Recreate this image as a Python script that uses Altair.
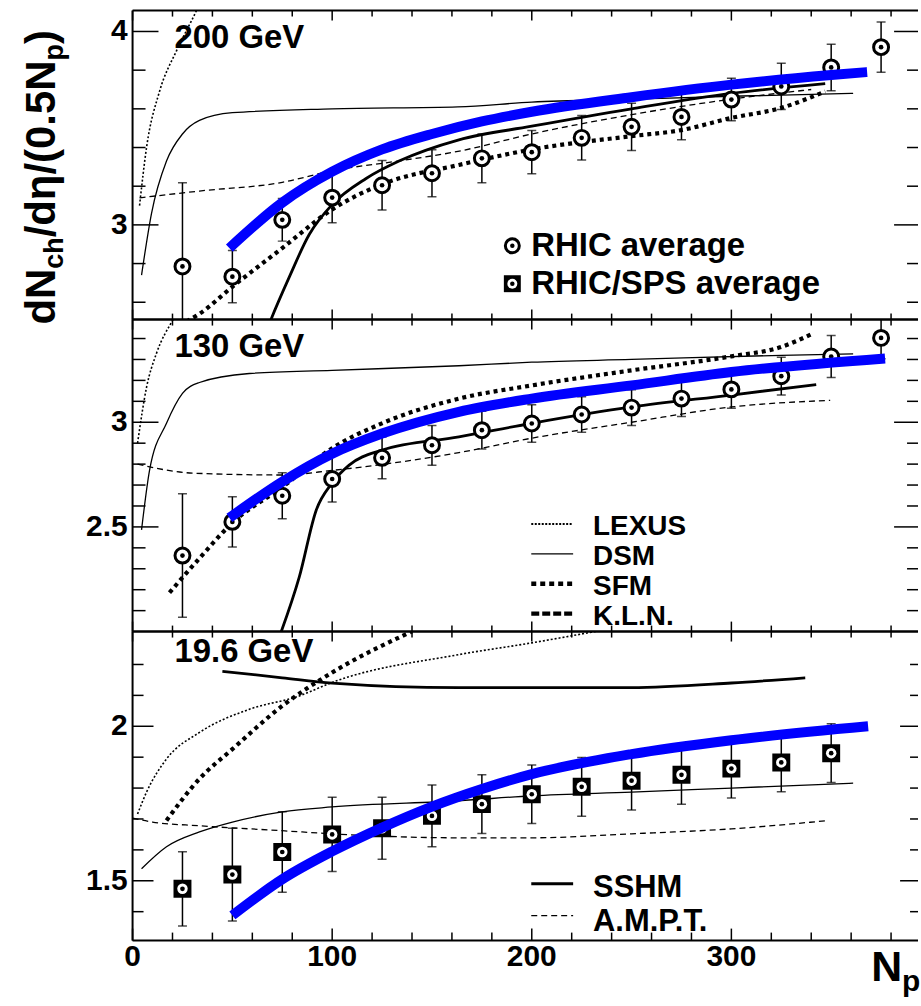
import altair as alt
import pandas as pd

FONT = "Liberation Sans"
BLUE = "#0000ff"

# ---------------- data points ----------------
np_rhic = [25, 50, 75, 100, 125, 150, 175, 200, 225, 250, 275, 300, 325, 350, 375]
rhic200 = [2.785, 2.732, 3.026, 3.141, 3.205, 3.267, 3.344, 3.376, 3.45, 3.507, 3.558, 3.648, 3.716, 3.814, 3.919]
err200 = [0.433, 0.135, 0.11, 0.13, 0.128, 0.121, 0.126, 0.112, 0.115, 0.122, 0.118, 0.11, 0.12, 0.12, 0.13]
rhic130 = [2.363, 2.524, 2.649, 2.729, 2.83, 2.89, 2.962, 2.994, 3.037, 3.07, 3.113, 3.157, 3.22, 3.314, 3.403]
err130 = [0.295, 0.12, 0.11, 0.11, 0.1, 0.095, 0.09, 0.09, 0.085, 0.085, 0.085, 0.09, 0.09, 0.1, 0.1]
np_sps = [25, 50, 75, 100, 125, 150, 175, 200, 225, 250, 275, 300, 325, 350]
sps196 = [1.474, 1.52, 1.593, 1.65, 1.67, 1.71, 1.748, 1.78, 1.804, 1.824, 1.843, 1.863, 1.883, 1.913]
err196 = [0.12, 0.15, 0.13, 0.12, 0.1, 0.1, 0.095, 0.095, 0.095, 0.095, 0.095, 0.095, 0.095, 0.095]

# ---------------- model curves: 200 GeV ----------------
lexus200_x = [3.5, 7, 13.5, 22, 32, 36]
lexus200_y = [3.10, 3.40, 3.69, 3.90, 4.108, 4.2]
dsm200_x = [4.5, 9.5, 17, 25, 33.5, 50, 100, 163, 200, 250, 300, 361]
dsm200_y = [2.74, 3.06, 3.33, 3.47, 3.54, 3.58, 3.60, 3.61, 3.635, 3.65, 3.665, 3.68]
sfm200_x = [27, 33.5, 50, 75, 100, 125, 163.5, 200, 250, 275, 300, 325, 347]
sfm200_y = [2.50, 2.54, 2.68, 2.88, 3.08, 3.21, 3.31, 3.39, 3.459, 3.49, 3.553, 3.605, 3.69]
kln200_x = [67, 69.5, 78.5, 88.5, 100, 117, 133.5, 163.5, 200, 250, 300, 347]
kln200_y = [2.45, 2.515, 2.73, 2.95, 3.105, 3.24, 3.33, 3.44, 3.51, 3.60, 3.68, 3.73]
ampt200_x = [3.5, 33.5, 75, 100, 133, 163, 200, 250, 300, 340]
ampt200_y = [3.14, 3.175, 3.22, 3.28, 3.33, 3.38, 3.47, 3.57, 3.65, 3.70]
fit200_x = [48.5, 75, 100, 125, 150, 175, 200, 250, 300, 350, 368]
fit200_y = [2.88, 3.115, 3.275, 3.39, 3.47, 3.535, 3.585, 3.66, 3.725, 3.775, 3.79]

# ---------------- model curves: 130 GeV ----------------
lexus130_x = [2.5, 7, 12, 20, 24]
lexus130_y = [2.9, 3.167, 3.33, 3.486, 3.55]
dsm130_x = [4.5, 8.5, 17, 25, 33.5, 58.5, 100, 163.5, 200, 250, 325, 361]
dsm130_y = [2.486, 2.77, 2.995, 3.138, 3.19, 3.233, 3.248, 3.27, 3.287, 3.30, 3.32, 3.327]
sfm130_x = [18.5, 33.5, 50, 75, 100, 125, 163.5, 200, 250, 300, 325, 340]
sfm130_y = [2.186, 2.35, 2.52, 2.69, 2.876, 2.995, 3.113, 3.176, 3.248, 3.315, 3.36, 3.42]
kln130_x = [74.5, 83.5, 92, 100, 108.5, 125, 163.5, 200, 250, 300, 342.5]
kln130_y = [2.0, 2.26, 2.58, 2.71, 2.795, 2.867, 2.93, 2.995, 3.073, 3.13, 3.18]
ampt130_x = [2.5, 30, 75, 100, 163.5, 200, 250, 300, 349.5]
ampt130_y = [2.8, 2.757, 2.748, 2.77, 2.855, 2.924, 3.0, 3.073, 3.105]
fit130_x = [48.5, 75, 100, 125, 163.5, 200, 250, 300, 377]
fit130_y = [2.543, 2.716, 2.85, 2.946, 3.05, 3.113, 3.176, 3.24, 3.305]

# ---------------- model curves: 19.6 GeV ----------------
lexus196_x = [2.5, 7, 17, 33.5, 58.5, 83.5, 100, 163.5, 200, 237]
lexus196_y = [1.716, 1.787, 1.894, 1.98, 2.055, 2.098, 2.142, 2.232, 2.27, 2.313]
sfm196_x = [17, 33.5, 50, 75, 100, 140]
sfm196_y = [1.695, 1.83, 1.926, 2.066, 2.174, 2.307]
sshm196_x = [45, 75, 100, 163.5, 200, 250, 300, 337]
sshm196_y = [2.178, 2.157, 2.14, 2.125, 2.125, 2.125, 2.14, 2.157]
dsm196_x = [4.5, 17, 33.5, 50, 75, 100, 163.5, 200, 250, 300, 361]
dsm196_y = [1.539, 1.61, 1.658, 1.69, 1.723, 1.739, 1.759, 1.775, 1.787, 1.80, 1.816]
ampt196_x = [0, 10, 33.5, 75, 100, 163.5, 200, 250, 300, 347]
ampt196_y = [1.703, 1.69, 1.678, 1.662, 1.652, 1.639, 1.639, 1.652, 1.668, 1.694]
fit196_x = [50, 75, 100, 125, 150, 175, 200, 250, 300, 368.5]
fit196_y = [1.388, 1.505, 1.595, 1.672, 1.74, 1.797, 1.845, 1.91, 1.955, 2.0]

# ---------------- ticks ----------------
x_major = [0, 100, 200, 300]
x_minor = [20, 40, 60, 80, 120, 140, 160, 180, 220, 240, 260, 280, 320, 340, 360, 380]
y200_major = [3, 4]
y200_minor = [2.6, 2.8, 3.2, 3.4, 3.6, 3.8]
y130_major = [2.5, 3]
y130_minor = [2.1, 2.2, 2.3, 2.4, 2.6, 2.7, 2.8, 2.9, 3.1, 3.2, 3.3, 3.4]
y196_major = [1.5, 2]
y196_minor = [1.4, 1.6, 1.7, 1.8, 1.9, 2.1, 2.2]

# ---------------- styles ----------------
STY = {
    "LEXUS": dict(strokeWidth=1.6, strokeDash=[2, 2]),
    "DSM": dict(strokeWidth=1.3),
    "SFM": dict(strokeWidth=4.2, strokeDash=[4, 4]),
    "KLN": dict(strokeWidth=2.8),
    "SSHM": dict(strokeWidth=2.8),
    "AMPT": dict(strokeWidth=1.3, strokeDash=[6, 4]),
}

W = 788
XDOM = [0, 393.5]
ONE = pd.DataFrame({"d": [0]})
TXT = dict(font=FONT, fontWeight="bold", color="black")


def panel(h, ydom, ymaj, ymin, lt, rt, xbt, xtt, curves, fit, pts, marker, texts, legend_lines,
          legend_markers, xlabels=False):
    xs = alt.Scale(domain=XDOM, nice=False, zero=False)
    ys = alt.Scale(domain=ydom, nice=False, zero=False)
    layers = []
    # y ticks (left & right)
    for vals, x0, x1 in [(ymaj, 0, lt[0]), (ymin, 0, lt[1]), (ymaj, W, W - rt[0]), (ymin, W, W - rt[1])]:
        layers.append(alt.Chart(pd.DataFrame({"v": vals})).mark_rule(color="black", strokeWidth=1.5).encode(
            y=alt.Y("v:Q", scale=ys, axis=None), x=alt.value(x0), x2=alt.value(x1)))
    # y tick labels
    layers.append(alt.Chart(pd.DataFrame({"v": ymaj})).mark_text(
        align="right", baseline="middle", fontSize=30, **TXT).encode(
        y=alt.Y("v:Q", scale=ys, axis=None), x=alt.value(-5), text=alt.Text("v:Q", format="~g")))
    # x ticks (bottom & top)
    for vals, y0, y1 in [(x_major, h, h - xbt[0]), (x_minor, h, h - xbt[1]), (x_major, 0, xtt[0]), (x_minor, 0, xtt[1])]:
        layers.append(alt.Chart(pd.DataFrame({"v": vals})).mark_rule(color="black", strokeWidth=1.5).encode(
            x=alt.X("v:Q", scale=xs, axis=None), y=alt.value(y0), y2=alt.value(y1)))
    if xlabels:
        layers.append(alt.Chart(pd.DataFrame({"v": x_major})).mark_text(
            align="center", baseline="alphabetic", fontSize=30, **TXT).encode(
            x=alt.X("v:Q", scale=xs, axis=None), y=alt.value(h + 26), text=alt.Text("v:Q", format="d")))
    # frame (left, top, bottom)
    layers.append(alt.Chart(ONE).mark_rule(color="black", strokeWidth=2).encode(
        x=alt.value(0), y=alt.value(0), y2=alt.value(h)))
    layers.append(alt.Chart(ONE).mark_rule(color="black", strokeWidth=2).encode(
        x=alt.value(0), x2=alt.value(W), y=alt.value(0)))
    layers.append(alt.Chart(ONE).mark_rule(color="black", strokeWidth=2).encode(
        x=alt.value(0), x2=alt.value(W), y=alt.value(h)))
    # model curves
    for name, cx, cy in curves:
        layers.append(alt.Chart(pd.DataFrame({"x": cx, "y": cy})).mark_line(
            clip=True, interpolate="monotone", color="black", **STY[name]).encode(
            x=alt.X("x:Q", scale=xs, axis=None), y=alt.Y("y:Q", scale=ys, axis=None)))
    # data points with error bars
    px, py, pe = pts
    pdf = pd.DataFrame({"x": px, "y": py, "e": pe})
    base = alt.Chart(pdf).transform_calculate(lo="datum.y - datum.e", hi="datum.y + datum.e")
    X = alt.X("x:Q", scale=xs, axis=None)
    layers.append(base.mark_rule(clip=True, color="black", strokeWidth=1.5).encode(
        x=X, y=alt.Y("lo:Q", scale=ys, axis=None), y2="hi:Q"))
    for f in ["lo", "hi"]:
        layers.append(base.mark_tick(clip=True, orient="horizontal", size=9, thickness=1.5, color="black").encode(
            x=X, y=alt.Y(f + ":Q", scale=ys, axis=None)))
    Y = alt.Y("y:Q", scale=ys, axis=None)
    if marker == "circle":
        layers.append(base.mark_point(clip=True, shape="circle", size=225, fill="white", stroke="black",
                                      strokeWidth=3, opacity=1, fillOpacity=1).encode(x=X, y=Y))
    else:
        layers.append(base.mark_square(clip=True, size=324, color="black", opacity=1).encode(x=X, y=Y))
        layers.append(base.mark_circle(clip=True, size=110, color="white", opacity=1).encode(x=X, y=Y))
    layers.append(base.mark_circle(clip=True, size=22, color="black", opacity=1).encode(x=X, y=Y))
    # fit curve (blue)
    fx, fy = fit
    layers.append(alt.Chart(pd.DataFrame({"x": fx, "y": fy})).mark_line(
        clip=True, interpolate="monotone", color=BLUE, strokeWidth=10, strokeCap="butt").encode(
        x=alt.X("x:Q", scale=xs, axis=None), y=alt.Y("y:Q", scale=ys, axis=None)))
    # legend line samples
    for name, lx1, lx2, ly, sty in legend_lines:
        layers.append(alt.Chart(ONE).mark_rule(color="black", **sty).encode(
            x=alt.value(lx1), x2=alt.value(lx2), y=alt.value(ly)))
    # legend markers
    for kind, mx, my in legend_markers:
        if kind == "circle":
            layers.append(alt.Chart(ONE).mark_point(shape="circle", size=196, fill="white", stroke="black",
                                                    strokeWidth=3, opacity=1, fillOpacity=1).encode(
                x=alt.value(mx), y=alt.value(my)))
        else:
            layers.append(alt.Chart(ONE).mark_square(size=289, color="black", opacity=1).encode(
                x=alt.value(mx), y=alt.value(my)))
            layers.append(alt.Chart(ONE).mark_circle(size=100, color="white", opacity=1).encode(
                x=alt.value(mx), y=alt.value(my)))
        layers.append(alt.Chart(ONE).mark_circle(size=20, color="black", opacity=1).encode(
            x=alt.value(mx), y=alt.value(my)))
    # texts
    for t, tx, ty, fs, ang in texts:
        kw = dict(fontSize=fs, align="left", baseline="alphabetic", **TXT)
        if ang:
            kw["angle"] = ang
        layers.append(alt.Chart(ONE).mark_text(**kw).encode(
            x=alt.value(tx), y=alt.value(ty), text=alt.value(t)))
    return alt.layer(*layers).properties(width=W, height=h)


# ---------------- top panel: 200 GeV ----------------
top_texts = [
    ("200 GeV", 42, 38, 33, 0),
    ("RHIC average", 400, 246, 33, 0),
    ("RHIC/SPS average", 400, 284, 33, 0),
    # y axis title built from pieces (rotated)
    ("dN", -78, 315, 42, 270),
    ("ch", -70, 259, 27, 270),
    ("/d\u03b7/(0.5N", -78, 227.5, 42, 270),
    ("p", -70, 50.1, 27, 270),
    (")", -78, 33.6, 42, 270),
]
top = panel(
    310, [2.5103, 4.108], y200_major, y200_minor, (26, 13), (24, 11), (10, 6), (10, 6),
    [("LEXUS", lexus200_x, lexus200_y), ("DSM", dsm200_x, dsm200_y), ("AMPT", ampt200_x, ampt200_y),
     ("KLN", kln200_x, kln200_y), ("SFM", sfm200_x, sfm200_y)],
    (fit200_x, fit200_y), (np_rhic, rhic200, err200), "circle", top_texts, [],
    [("circle", 381, 236), ("square", 381, 274)])
# invisible anchor fixing the plot origin at (133, 9)
anchor = alt.Chart(ONE).mark_rule(strokeWidth=0, opacity=0).encode(
    x=alt.value(-133), x2=alt.value(-133), y=alt.value(-9), y2=alt.value(-9))
top = alt.layer(top, anchor)

# ---------------- middle panel: 130 GeV ----------------
mid_texts = [
    ("130 GeV", 42, 38, 33, 0),
    ("LEXUS", 462, 216, 28, 0),
    ("DSM", 462, 246, 28, 0),
    ("SFM", 462, 276, 28, 0),
    ("K.L.N.", 462, 306, 28, 0),
]
mid_leg = [
    ("LEXUS", 400, 442, 205, dict(strokeWidth=2, strokeDash=[2, 1.5])),
    ("DSM", 400, 442, 235, dict(strokeWidth=1.3)),
    ("SFM", 400, 442, 265, dict(strokeWidth=4.5, strokeDash=[5, 4])),
    ("KLN", 400, 442, 295, dict(strokeWidth=4.5, strokeDash=[8, 3])),
]
mid = panel(
    313, [2.0, 3.4905], y130_major, y130_minor, (26, 13), (24, 11), (10, 6), (10, 6),
    [("LEXUS", lexus130_x, lexus130_y), ("DSM", dsm130_x, dsm130_y), ("AMPT", ampt130_x, ampt130_y),
     ("KLN", kln130_x, kln130_y), ("SFM", sfm130_x, sfm130_y)],
    (fit130_x, fit130_y), (np_rhic, rhic130, err130), "circle", mid_texts, mid_leg, [])

# ---------------- bottom panel: 19.6 GeV ----------------
bot_texts = [
    ("19.6 GeV", 42, 31, 33, 0),
    ("SSHM", 462, 266, 31, 0),
    ("A.M.P.T.", 462, 300, 31, 0),
    ("N", 741, 351, 43, 0),
    ("p", 772, 361, 30, 0),
]
bot_leg = [
    ("SSHM", 400, 442, 253, dict(strokeWidth=2.8)),
    ("AMPT", 400, 442, 285, dict(strokeWidth=1.3, strokeDash=[6, 4])),
]
bot = panel(
    310, [1.3065, 2.3065], y196_major, y196_minor, (21, 11), (18, 8), (12, 8), (10, 6),
    [("LEXUS", lexus196_x, lexus196_y), ("DSM", dsm196_x, dsm196_y), ("AMPT", ampt196_x, ampt196_y),
     ("SSHM", sshm196_x, sshm196_y), ("SFM", sfm196_x, sfm196_y)],
    (fit196_x, fit196_y), (np_sps, sps196, err196), "square", bot_texts, bot_leg, [], xlabels=True)

chart = alt.vconcat(top, mid, bot, spacing=0, bounds="flush", padding=0).configure_view(stroke=None)
chart.save("out.html", embed_options={"renderer": "svg", "actions": False})
